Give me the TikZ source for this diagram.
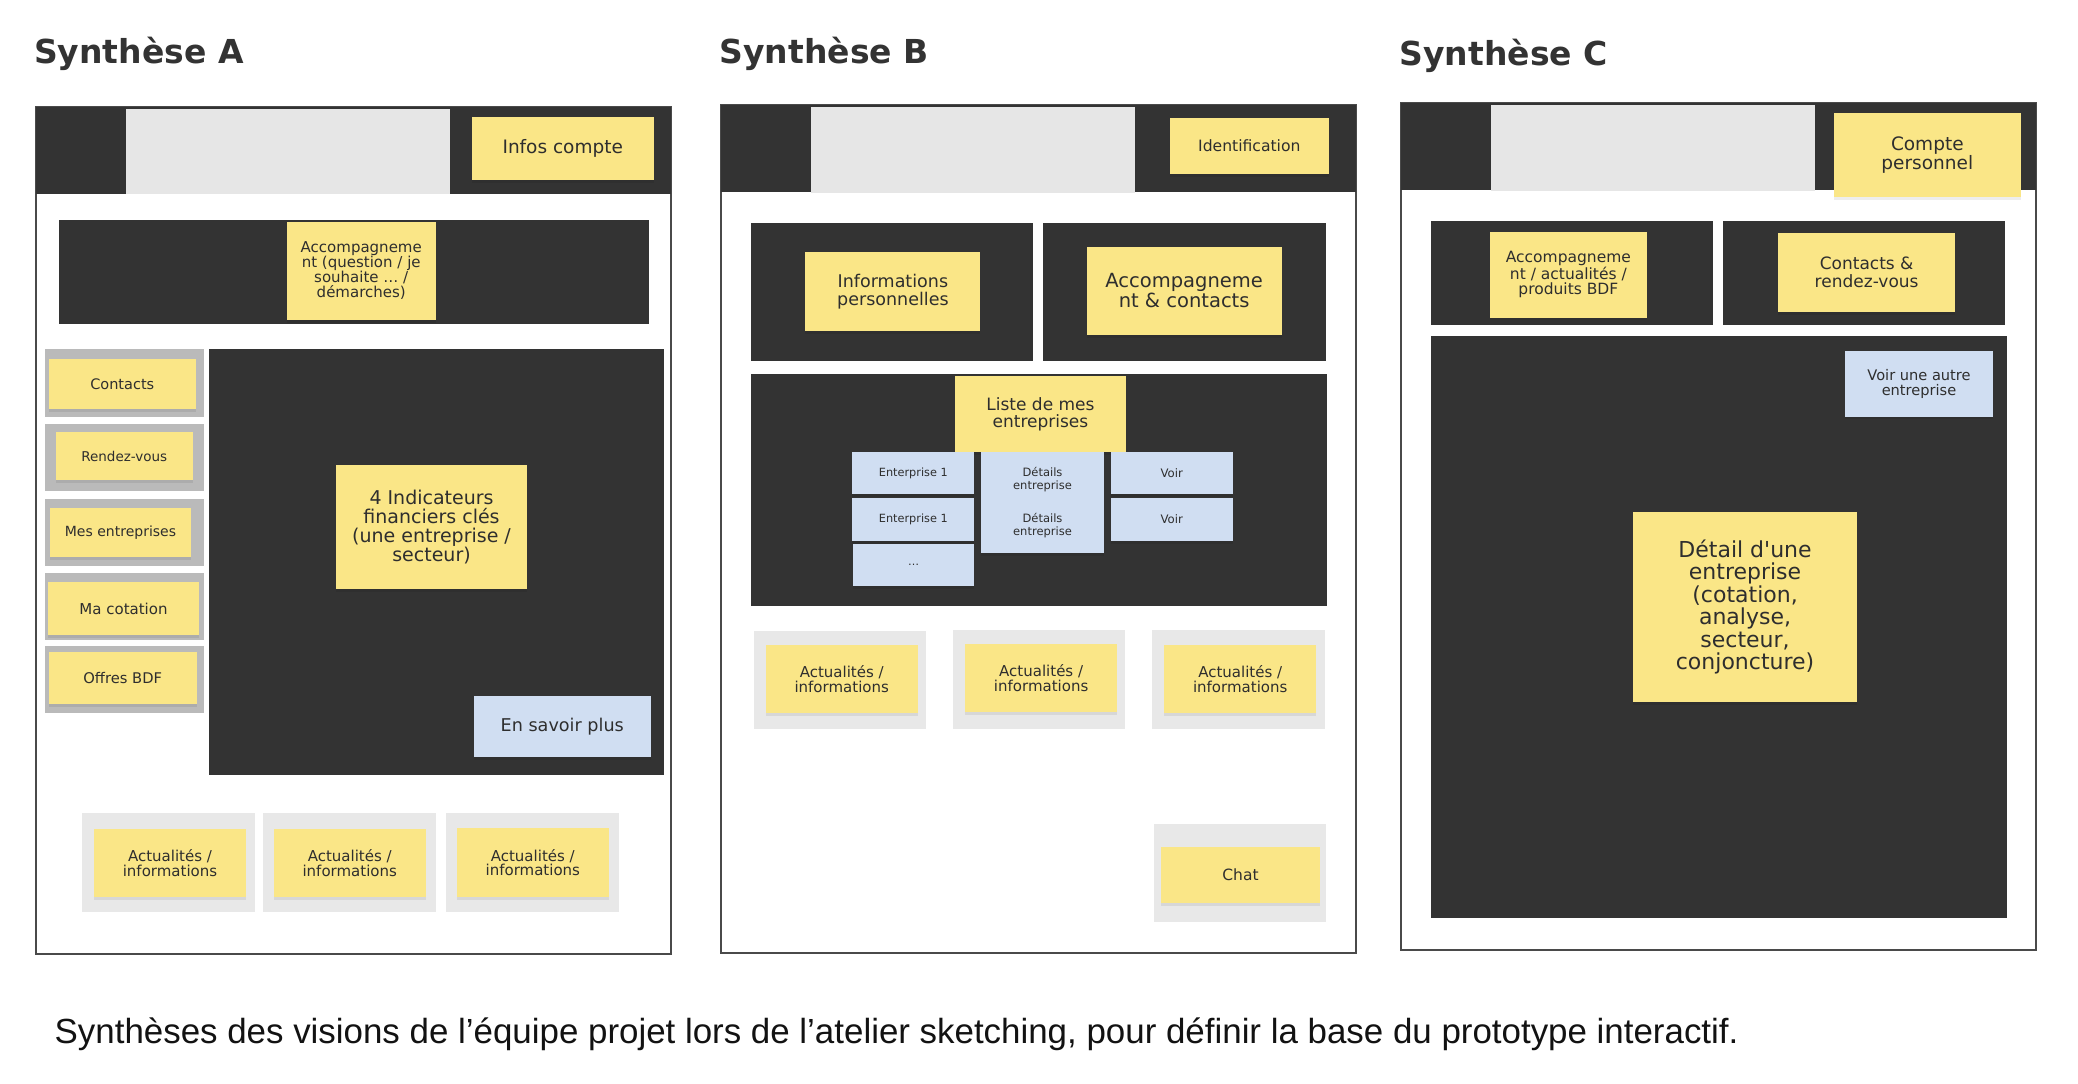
\documentclass[tikz,border=0pt]{standalone}
\usepackage{fontspec}
\newfontfamily\dv{DejaVu Sans}
\newfontfamily\lib{Liberation Sans}
\usetikzlibrary{shadows}
\definecolor{dk}{HTML}{333333}
\definecolor{yel}{HTML}{FAE687}
\definecolor{blu}{HTML}{D0DEF2}
\definecolor{lgr}{HTML}{E8E8E8}
\definecolor{mgr}{HTML}{BABABA}
\definecolor{hgr}{HTML}{E6E6E6}
\definecolor{frm}{HTML}{4A4A4A}
\definecolor{txt}{HTML}{2E2E2E}
\newcommand\bx[7]{\node[box,#6,minimum width={(#4)-(#2)},minimum height={(#5)-(#3)}] (#1) at ({((#2)+(#4))/2},{((#3)+(#5))/2}) {#7};}
\tikzset{
  box/.style={inner sep=0pt,outer sep=0pt,draw=none,align=center,text=txt},
  fsz/.style 2 args={font={\dv\fontsize{#1}{#2}\selectfont}},
  frame/.style={fill=white,draw=frm,line width=2.2pt},
  darkbox/.style={fill=dk},
  hdrgray/.style={fill=hgr},
  midgray/.style={fill=mgr},
  litegray/.style={fill=lgr},
  yellownote/.style={fill=yel,drop shadow={shadow xshift=0pt,shadow yshift=-2.5pt,opacity=0.07,fill=black}},
  bluenote/.style={fill=blu,drop shadow={shadow xshift=0pt,shadow yshift=-2.5pt,opacity=0.07,fill=black}},
  title/.style={anchor=base west,inner sep=0pt,text=dk,font={\dv\bfseries\fontsize{33}{36}\selectfont}}
}
\begin{document}
\begin{tikzpicture}[x=1pt,y=-1pt]
\useasboundingbox (0,0) rectangle (2078,1084);
\fill[white] (0,0) rectangle (2078,1084);

% titles
\node[title] (tA) at (34,63) {Synthèse A};
\node[title] (tB) at (719.5,63) {Synthèse B};
\node[title] (tC) at (1399.4,65) {Synthèse C};

% ===== Frame A =====
\bx{fA}{35.7}{107}{670.7}{954}{frame}{}
\bx{hA}{35.7}{107}{670.7}{194}{darkbox}{}
\bx{gA}{126}{109}{450}{194}{hdrgray}{}
\bx{infos}{472}{117}{653.5}{180}{yellownote,fsz={18.5}{20}}{Infos compte}
\bx{bandA}{59}{220}{648.5}{324}{darkbox}{}
\bx{accA}{286.5}{222}{436}{320}{yellownote,fsz={15}{15}}{Accompagneme\\nt (question / je\\souhaite … /\\démarches)}
\bx{g1}{45}{349}{203.5}{417}{midgray}{}
\bx{contacts}{49}{359}{195.5}{409}{yellownote,fsz={14.5}{16}}{Contacts}
\bx{g2}{45}{424}{203.5}{491}{midgray}{}
\bx{rdv}{56}{432}{192.5}{480}{yellownote,fsz={13.5}{15}}{Rendez-vous}
\bx{g3}{45}{499}{203.5}{566}{midgray}{}
\bx{mesent}{50}{508}{191}{557}{yellownote,fsz={14}{15}}{Mes entreprises}
\bx{g4}{45}{573}{203.5}{640}{midgray}{}
\bx{cot}{48}{582}{199}{635}{yellownote,fsz={15}{16}}{Ma cotation}
\bx{g5}{45}{646}{203.5}{713}{midgray}{}
\bx{offres}{49}{652}{196.5}{704}{yellownote,fsz={14.7}{16}}{Offres BDF}
\bx{bigA}{209}{349}{663.5}{775}{darkbox}{}
\bx{indic}{336.3}{465}{526.8}{589}{yellownote,fsz={19}{19.3}}{4 Indicateurs\\financiers clés\\(une entreprise /\\secteur)}
\bx{savoir}{474}{696}{650.5}{757}{bluenote,fsz={17.6}{19}}{En savoir plus}
\bx{aAg1}{82}{813}{254.5}{912}{litegray}{}
\bx{aAg2}{263}{813}{436}{912}{litegray}{}
\bx{aAg3}{446}{813}{618.6}{912}{litegray}{}
\bx{aA1}{94}{829}{246}{897}{yellownote,fsz={15}{14.5}}{Actualités /\\informations}
\bx{aA2}{273.5}{829}{426}{897}{yellownote,fsz={15}{14.5}}{Actualités /\\informations}
\bx{aA3}{457}{828}{608.6}{897}{yellownote,fsz={15}{14.5}}{Actualités /\\informations}

% ===== Frame B =====
\bx{fB}{721}{105}{1356}{953}{frame}{}
\bx{hB}{721}{105}{1356}{192}{darkbox}{}
\bx{gB}{811.2}{107}{1135}{193}{hdrgray}{}
\bx{ident}{1170}{118}{1328.6}{174}{yellownote,fsz={15.6}{17}}{Identification}
\bx{dBL}{750.9}{223}{1033.3}{361}{darkbox}{}
\bx{dBR}{1042.8}{223}{1325.6}{361}{darkbox}{}
\bx{infopers}{805.4}{252}{980.4}{331}{yellownote,fsz={17.5}{17.7}}{Informations\\personnelles}
\bx{acccont}{1086.6}{247}{1281.7}{335}{yellownote,fsz={19.5}{20}}{Accompagneme\\nt \& contacts}
\bx{listB}{750.9}{374}{1326.6}{606}{darkbox}{}
\bx{liste}{954.9}{376}{1126}{452}{yellownote,fsz={17}{17}}{Liste de mes\\entreprises}
\bx{e1}{852.3}{452}{974.4}{494}{bluenote,fsz={11.3}{12}}{Enterprise 1}
\bx{d1}{981.4}{452}{1103.6}{507}{bluenote,fsz={11.5}{12.5}}{Détails\\entreprise}
\bx{v1}{1110.7}{452}{1232.8}{494}{bluenote,fsz={11.7}{12}}{Voir}
\bx{e2}{852.3}{498}{974.4}{541}{bluenote,fsz={11.3}{12}}{Enterprise 1}
\bx{d2}{981.4}{498}{1103.6}{553}{bluenote,fsz={11.5}{12.5}}{Détails\\entreprise}
\bx{v2}{1110.7}{498}{1232.8}{541}{bluenote,fsz={11.7}{12}}{Voir}
\bx{e3}{853.2}{544}{974.1}{586}{bluenote,fsz={11}{12}}{…}
\bx{aBg1}{753.9}{631}{925.5}{729}{litegray}{}
\bx{aBg2}{953.1}{630}{1125.4}{729}{litegray}{}
\bx{aBg3}{1151.8}{630}{1324.6}{729}{litegray}{}
\bx{aB1}{765.9}{645}{917.5}{713}{yellownote,fsz={15}{15.7}}{Actualités /\\informations}
\bx{aB2}{965.2}{644}{1117.1}{712}{yellownote,fsz={15}{15.7}}{Actualités /\\informations}
\bx{aB3}{1164.4}{645}{1316}{713}{yellownote,fsz={15}{15.7}}{Actualités /\\informations}
\bx{chatg}{1154.2}{824}{1326.3}{922}{litegray}{}
\bx{chat}{1160.9}{847}{1320.1}{903}{yellownote,fsz={15.5}{17}}{Chat}

% ===== Frame C =====
\bx{fC}{1400.9}{103}{2036.3}{950}{frame}{}
\bx{hC}{1400.9}{103}{2036.3}{190}{darkbox}{}
\bx{gC}{1490.9}{105}{1814.9}{191}{hdrgray}{}
\bx{compte}{1833.8}{113}{2020.8}{197}{yellownote,fsz={18.5}{18.3}}{Compte\\personnel}
\bx{dCL}{1431.2}{220.7}{1713.4}{324.7}{darkbox}{}
\bx{dCR}{1722.8}{220.7}{2005.4}{324.7}{darkbox}{}
\bx{accC}{1490}{231.7}{1646.7}{317.7}{yellownote,fsz={15.5}{15.5}}{Accompagneme\\nt / actualités /\\produits BDF}
\bx{contrdv}{1778}{233}{1955.2}{312}{yellownote,fsz={17}{17.7}}{Contacts \&\\rendez-vous}
\bx{bigC}{1430.7}{335.7}{2006.9}{917.7}{darkbox}{}
\bx{autre}{1845.3}{351}{1992.7}{416.7}{bluenote,fsz={14.6}{15}}{Voir une autre\\entreprise}
\bx{detail}{1632.8}{512}{1857.3}{702}{yellownote,fsz={22}{22.4}}{Détail d'une\\entreprise\\(cotation,\\analyse,\\secteur,\\conjoncture)}

% caption
\node[anchor=base west,inner sep=0pt,text=black!93,font={\lib\fontsize{34.9}{40}\selectfont}] (cap) at (54.5,1043.5) {Synthèses des visions de l’équipe projet lors de l’atelier sketching, pour définir la base du prototype interactif.};
\end{tikzpicture}
\end{document}
